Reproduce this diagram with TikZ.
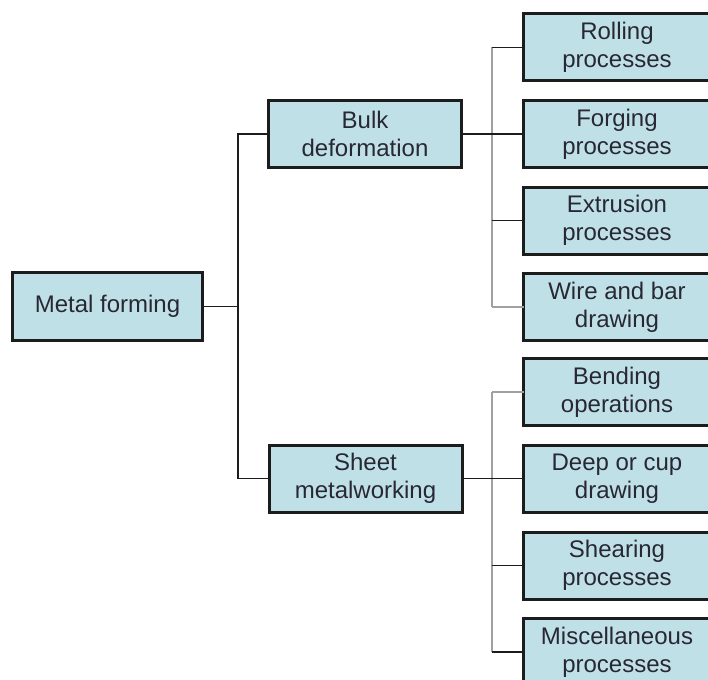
\documentclass[tikz,border=0pt]{standalone}
\usepackage{fontspec}
\setmainfont{Liberation Sans}
\definecolor{boxfill}{RGB}{192,224,232}
\definecolor{boxline}{RGB}{28,28,28}
\definecolor{txt}{RGB}{40,40,52}
\definecolor{busgray}{RGB}{160,160,160}
\begin{document}
\begin{tikzpicture}[x=1pt,y=-1pt,
  box/.style={draw=boxline,line width=3pt,fill=boxfill,text=txt,
    align=center,inner sep=0pt,outer sep=0pt,
    font=\fontsize{24}{28}\selectfont},
  mainbox/.style={box,minimum width=190pt,minimum height=68pt},
  midbox/.style={box,minimum width=193pt,minimum height=67pt},
  leafbox/.style={box,minimum width=187pt,minimum height=67pt},
  conn/.style={draw=boxline,line width=1.5pt},
  bus/.style={draw=busgray,line width=2pt}]
\useasboundingbox (0,0) rectangle (708,679);

\node[mainbox] (mf) at (107.5,306.5) {Metal forming};
\node[midbox] (bulk) at (365,134) {Bulk\\deformation};
\node[midbox] (sheet) at (365.5,478.5) {Sheet\\metalworking};

\node[leafbox] (roll) at (617,47.5) {Rolling\\processes};
\node[leafbox] (forg) at (617,134) {Forging\\processes};
\node[leafbox] (extr) at (617,220.5) {Extrusion\\processes};
\node[leafbox] (wire) at (617,307) {Wire and bar\\drawing};
\node[leafbox] (bend) at (617,392) {Bending\\operations};
\node[leafbox] (deep) at (617,478.5) {Deep or cup\\drawing};
\node[leafbox] (shear) at (617,565.5) {Shearing\\processes};
\node[leafbox] (misc) at (617,652) {Miscellaneous\\processes};

\coordinate (j0) at (238,306.5);
\coordinate (b1t) at (492,47.5);
\coordinate (b1b) at (492,307);
\coordinate (b2t) at (492,392);
\coordinate (b2b) at (492,652);

% buses
\draw[bus] (b1t) -- (b1b);
\draw[bus] (b2t) -- (b2b);

% main tree
\draw[conn] (mf.east) -- (j0);
\draw[conn] (bulk.west) -| (j0) |- (sheet.west);

% bulk group
\draw[conn] (bulk.east) -- (forg.west);
\draw[conn] (b1t) -- (roll.west);
\draw[conn] (extr.west) -- (extr.west -| b1t);
\draw[bus] (wire.west) -- (b1b);

% sheet group
\draw[conn] (sheet.east) -- (deep.west);
\draw[bus] (b2t) -- (bend.west);
\draw[conn] (shear.west) -- (shear.west -| b2t);
\draw[conn] (b2b) -- (misc.west);
\end{tikzpicture}
\end{document}
